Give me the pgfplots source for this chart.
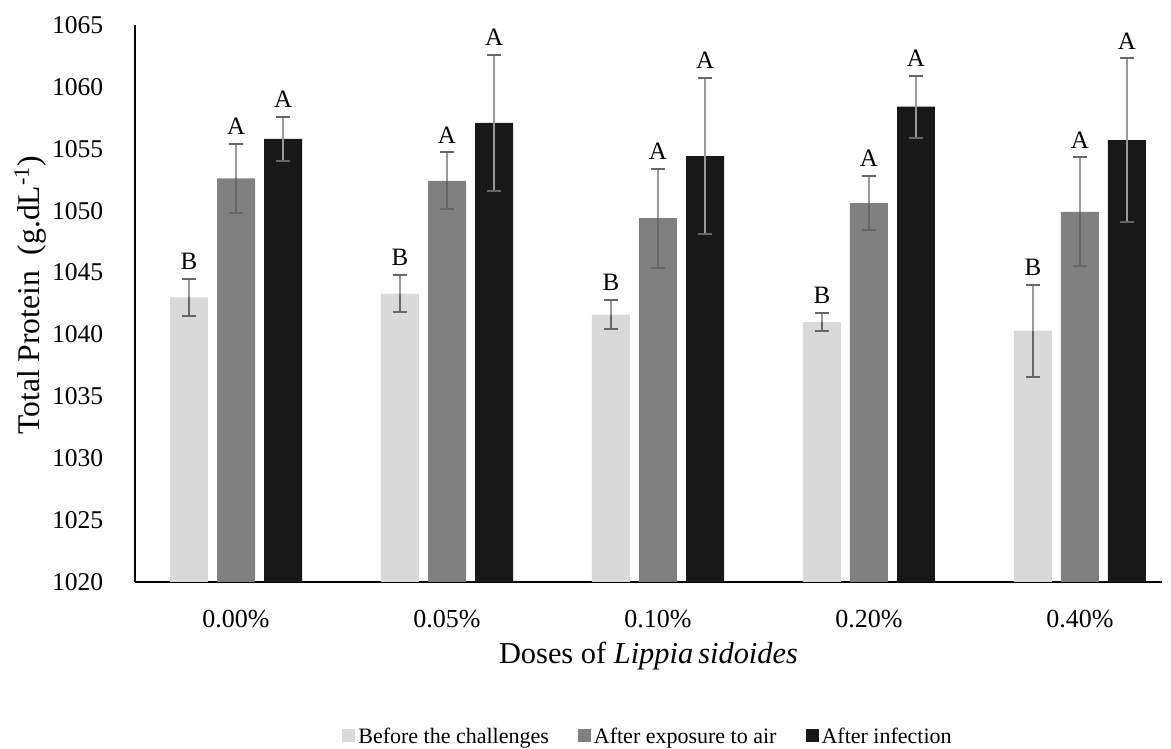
\documentclass[border=0pt]{standalone}
\usepackage{pgfplots}
\pgfplotsset{compat=1.18}
\usepackage{pgfplotstable}
\usepackage{fontspec}
\setmainfont{Liberation Serif}
\definecolor{cLight}{HTML}{D9D9D9}
\definecolor{cMid}{HTML}{808080}
\definecolor{cDark}{HTML}{181818}
\definecolor{cErrP}{HTML}{999999}
\definecolor{cErrM}{HTML}{666666}

\pgfplotstableread{
x m e lab
0 1043.0 1.5 B
1 1043.3 1.5 B
2 1041.6 1.2 B
3 1041.0 0.7 B
4 1040.3 3.7 B
}\light
\pgfplotstableread{
x m e lab
0 1052.6 2.8 A
1 1052.4 2.3 A
2 1049.4 4.0 A
3 1050.6 2.2 A
4 1049.9 4.4 A
}\mid
\pgfplotstableread{
x m e lab
0 1055.8 1.8 A
1 1057.1 5.5 A
2 1054.4 6.3 A
3 1058.4 2.5 A
4 1055.7 6.6 A
}\dark

\begin{document}
\fontsize{12.5pt}{15pt}\selectfont
\begin{tikzpicture}
\begin{axis}[
  scale only axis,
  width=513.5pt, height=278.5pt,
  xmin=-0.479, xmax=4.389,
  ymin=1020, ymax=1065,
  ytick={1020,1025,...,1065},
  xtick={0,1,2,3,4},
  xticklabels={0.00\%,0.05\%,0.10\%,0.20\%,0.40\%},
  axis x line*=bottom, axis y line*=left,
  axis line style={line width=0.9pt, -},
  major tick length=0pt,
  /pgf/number format/.cd, assume math mode=true, 1000 sep={},
  /pgfplots/.cd,
  yticklabel style={xshift=-11.5pt, font=\fontsize{12.8pt}{15pt}\selectfont},
  xticklabel style={yshift=-9.5pt, font=\fontsize{13pt}{15pt}\selectfont},
  xlabel={Doses of \textit{Lippia\,sidoides}},
  ylabel={Total Protein\ \ (g.dL\textsuperscript{-1})},
  x label style={at={(axis description cs:0.5,0)}, anchor=center, yshift=-37pt, font=\fontsize{15.2pt}{18pt}\selectfont},
  y label style={at={(axis description cs:-0.102,0.515)}, anchor=center, font=\fontsize{15.8pt}{18pt}\selectfont},
  legend columns=3,
  legend style={at={(axis description cs:0.5,0)}, anchor=center, yshift=-78pt, draw=none, fill=none,
    /tikz/every even column/.append style={column sep=13pt},
    nodes={inner xsep=1.5pt},
    font=\fontsize{11pt}{13pt}\selectfont},
  legend image code/.code={\fill[#1] (0pt,-2.2pt) rectangle (6.5pt,4.3pt);},
  nodes near coords style={anchor=south, inner sep=4.5pt, text=black, font=\fontsize{12.5pt}{15pt}\selectfont},
]
% bars with plus error bars
\addplot[ybar, bar width=0.18, bar shift=0, fill=cLight, draw=none,
  error bars/.cd, y dir=plus, y explicit,
  error bar style={draw=cErrP, line width=1pt},
  error mark options={draw=cErrM, line width=1pt, mark size=3.5pt, rotate=90}]
  table[x expr=\thisrow{x}-0.223, y=m, y error=e] {\light};
\addlegendentry{Before the challenges}
\addplot[ybar, bar width=0.18, bar shift=0, fill=cMid, draw=none,
  error bars/.cd, y dir=plus, y explicit,
  error bar style={draw=cErrP, line width=1pt},
  error mark options={draw=cErrM, line width=1pt, mark size=3.5pt, rotate=90}]
  table[x=x, y=m, y error=e] {\mid};
\addlegendentry{After exposure to air}
\addplot[ybar, bar width=0.18, bar shift=0, fill=cDark, draw=none,
  error bars/.cd, y dir=plus, y explicit,
  error bar style={draw=cErrP, line width=1pt},
  error mark options={draw=cErrM, line width=1pt, mark size=3.5pt, rotate=90}]
  table[x expr=\thisrow{x}+0.223, y=m, y error=e] {\dark};
\addlegendentry{After infection}

% minus error bars (darker)
\addplot[draw=none, mark=none, forget plot,
  error bars/.cd, y dir=minus, y explicit,
  error bar style={draw=cErrM, line width=1pt},
  error mark options={draw=cErrM, line width=1pt, mark size=3.5pt, rotate=90}]
  table[x expr=\thisrow{x}-0.223, y=m, y error=e] {\light};
\addplot[draw=none, mark=none, forget plot,
  error bars/.cd, y dir=minus, y explicit,
  error bar style={draw=cErrM, line width=1pt},
  error mark options={draw=cErrM, line width=1pt, mark size=3.5pt, rotate=90}]
  table[x=x, y=m, y error=e] {\mid};
\addplot[draw=none, mark=none, forget plot,
  error bars/.cd, y dir=minus, y explicit,
  error bar style={draw=cErrP, line width=1pt},
  error mark options={draw=cErrM, line width=1pt, mark size=3.5pt, rotate=90}]
  table[x expr=\thisrow{x}+0.223, y=m, y error=e] {\dark};

% letters
\addplot[draw=none, mark=none, forget plot, nodes near coords, point meta=explicit symbolic]
  table[x expr=\thisrow{x}-0.223, y expr=\thisrow{m}+\thisrow{e}, meta=lab] {\light};
\addplot[draw=none, mark=none, forget plot, nodes near coords, point meta=explicit symbolic]
  table[x expr=\thisrow{x}, y expr=\thisrow{m}+\thisrow{e}, meta=lab] {\mid};
\addplot[draw=none, mark=none, forget plot, nodes near coords, point meta=explicit symbolic]
  table[x expr=\thisrow{x}+0.223, y expr=\thisrow{m}+\thisrow{e}, meta=lab] {\dark};
\end{axis}
\pgfresetboundingbox
\path ([shift={(-67.5pt,-83.5pt)}]current axis.south west) rectangle ([shift={(4.5pt,12.5pt)}]current axis.north east);
\end{tikzpicture}
\end{document}
